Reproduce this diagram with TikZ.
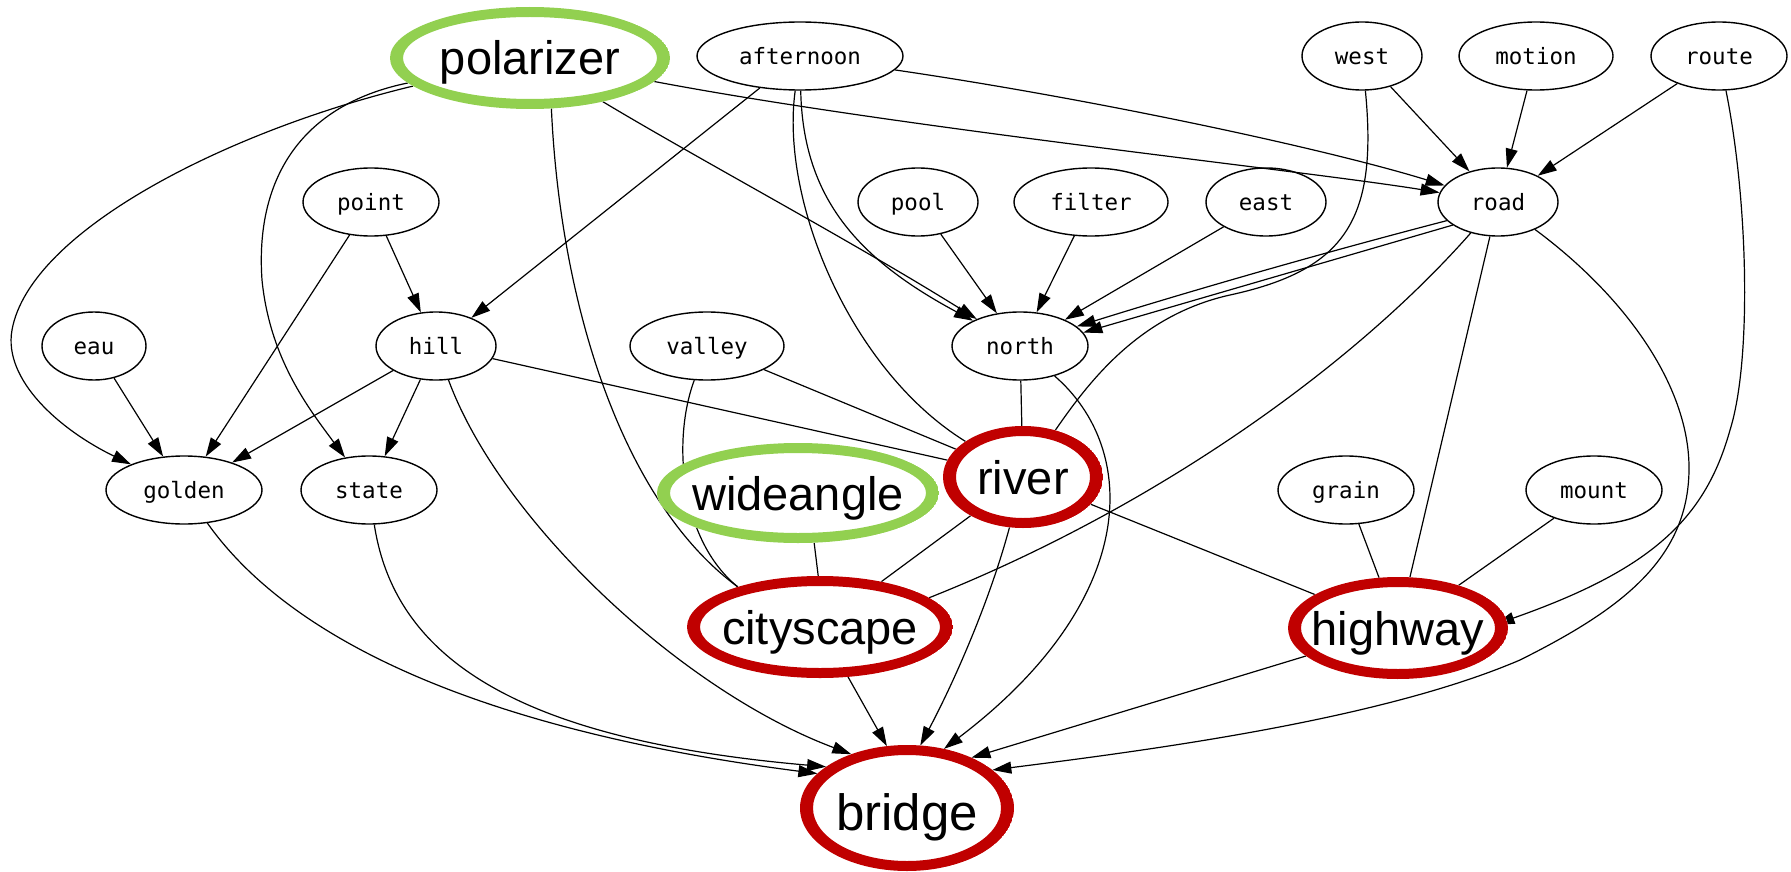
\documentclass[tikz,border=0pt]{standalone}
\usepackage{fontspec}
\newfontfamily\monofam{DejaVu Sans Mono}
\newfontfamily\arialfam{Liberation Sans}
\usetikzlibrary{shapes.geometric,arrows.meta,calc}
\pgfdeclarelayer{bg}
\pgfsetlayers{bg,main}
\definecolor{ringgreen}{HTML}{92D050}
\definecolor{ringred}{HTML}{C00000}
\begin{document}
\begin{tikzpicture}[x=1pt,y=-1pt,
  small/.style={ellipse, draw, line width=1.4pt, inner sep=0pt, minimum height=68pt,
    text height=17pt, text depth=0pt, font=\monofam\fontsize{22.5pt}{27pt}\selectfont},
  big/.style={ellipse, fill=white, inner sep=0pt, outer sep=0pt, text height=34pt, text depth=0pt,
    font=\arialfam\fontsize{47pt}{56pt}\selectfont,
    path picture={\fill[#1, even odd rule]
      let \p1=(path picture bounding box.north east), \p2=(path picture bounding box.center) in
      (\p2) ellipse [x radius=\x1-\x2, y radius=\y1-\y2]
      (\p2) ellipse [x radius=\x1-\x2-13pt, y radius=\y1-\y2-10pt];}},
  link/.style={line width=1.2pt},
  arrlink/.style={link, -{Triangle[length=19pt,width=12pt]}},
]
\useasboundingbox (0,0) rectangle (1791,872);

% highlighted nodes
\node[big=ringgreen, minimum width=280pt, minimum height=102pt] (polarizer) at (530,58) {\makebox[0pt]{polarizer}};
\node[big=ringgreen, minimum width=282pt, minimum height=100pt] (wideangle) at (798,493) {\makebox[0pt]{wideangle}};
\node[big=ringred, minimum width=160pt, minimum height=102pt] (river) at (1023,477) {\makebox[0pt]{river}};
\node[big=ringred, minimum width=266pt, minimum height=102pt] (cityscape) at (820,627) {\makebox[0pt]{cityscape}};
\node[big=ringred, minimum width=220pt, minimum height=102pt] (highway) at (1398,628) {\makebox[0pt]{highway}};
\node[big=ringred, minimum width=214pt, minimum height=126pt, text height=44pt,
  font=\arialfam\fontsize{51pt}{60pt}\selectfont] (bridge) at (907,808) {\makebox[0pt]{bridge}};

% plain nodes
\node[small, minimum width=206pt] (afternoon) at (800,56) {afternoon};
\node[small, minimum width=120pt] (west) at (1362,56) {west};
\node[small, minimum width=154pt] (motion) at (1536,56) {motion};
\node[small, minimum width=136pt] (route) at (1719,56) {route};
\node[small, minimum width=136pt] (point) at (371,202) {point};
\node[small, minimum width=120pt] (pool) at (918,202) {pool};
\node[small, minimum width=154pt] (filter) at (1091,202) {filter};
\node[small, minimum width=120pt] (east) at (1266,202) {east};
\node[small, minimum width=120pt] (road) at (1498,202) {road};
\node[small, minimum width=104pt] (eau) at (94,346) {eau};
\node[small, minimum width=120pt] (hill) at (436,346) {hill};
\node[small, minimum width=154pt] (valley) at (707,346) {valley};
\node[small, minimum width=136pt] (north) at (1020,346) {north};
\node[small, minimum width=156pt] (golden) at (184,490) {golden};
\node[small, minimum width=136pt] (state) at (369,490) {state};
\node[small, minimum width=136pt] (grain) at (1346,490) {grain};
\node[small, minimum width=136pt] (mount) at (1594,490) {mount};

\begin{pgfonlayer}{bg}
% polarizer
\draw[arrlink] (polarizer) .. controls (230,130) and (30,230) .. (12,330) .. controls (3,380) and (60,430) .. (golden);
\draw[arrlink] (polarizer) .. controls (300,105) and (255,180) .. (262,280) .. controls (270,360) and (310,410) .. (state);
\draw[link] (polarizer.293) .. controls (560,300) and (620,500) .. (cityscape.154);
\draw[arrlink] (polarizer) .. controls (700,160) and (850,240) .. (north);
\draw[arrlink] (polarizer) .. controls (900,128) and (1300,170) .. (road);
% afternoon
\draw[arrlink] (afternoon) -- (hill);
\draw[arrlink] (afternoon) .. controls (803,200) and (860,260) .. (north);
\draw[link] (afternoon) .. controls (780,200) and (850,370) .. (river);
\draw[arrlink] (afternoon) .. controls (1100,100) and (1330,150) .. (road);
% point, eau, hill
\draw[arrlink] (point) -- (hill);
\draw[arrlink] (point) -- (golden);
\draw[arrlink] (eau) -- (golden);
\draw[arrlink] (hill) -- (golden);
\draw[arrlink] (hill) -- (state);
\draw[link] (hill) -- (river);
\draw[arrlink] (hill) .. controls (500,520) and (680,690) .. (bridge.136);
% valley
\draw[link] (valley) -- (river);
\draw[link] (valley) .. controls (672,440) and (680,540) .. (cityscape.154);
% into north
\draw[arrlink] (pool) -- (north);
\draw[arrlink] (filter) -- (north);
\draw[arrlink] (east) -- (north);
\draw[arrlink] (road.200) .. controls (1330,251) and (1200,288) .. (north.19);
\draw[arrlink] (road.207) -- (north.12);
% into road
\draw[arrlink] (west) -- (road);
\draw[arrlink] (motion) -- (road);
\draw[arrlink] (route) -- (road);
% west -> river
\draw[link] (west) .. controls (1378,220) and (1345,270) .. (1230,295) .. controls (1140,315) and (1090,380) .. (river);
% road
\draw[link] (road) .. controls (1350,370) and (1150,510) .. (cityscape.15);
\draw[link] (road) -- (highway);
\draw[arrlink] (road) .. controls (1630,300) and (1690,390) .. (1689,470) .. controls (1688,560) and (1620,610) .. (1520,660) .. controls (1380,720) and (1150,750) .. (bridge.24);
% route -> highway
\draw[arrlink, shorten >=-12pt] (route) .. controls (1748,200) and (1752,360) .. (1730,430) .. controls (1705,520) and (1650,570) .. (highway.4);
% north
\draw[link] (north) -- (river);
\draw[arrlink] (north) .. controls (1140,450) and (1140,600) .. (bridge.58);
% river
\draw[arrlink] (river) .. controls (990,600) and (955,680) .. (bridge.78);
\draw[link] (river) -- (cityscape);
\draw[link] (river) -- (highway);
% others
\draw[link] (wideangle.288) -- (cityscape.92);
\draw[arrlink] (cityscape) -- (bridge.108);
\draw[arrlink] (golden) .. controls (290,640) and (480,730) .. (bridge.159);
\draw[arrlink] (state) .. controls (395,660) and (520,740) .. (bridge.153);
\draw[link] (grain) -- (highway);
\draw[link] (mount) -- (highway);
\draw[arrlink] (highway) -- (bridge.38);
\end{pgfonlayer}
\end{tikzpicture}
\end{document}
